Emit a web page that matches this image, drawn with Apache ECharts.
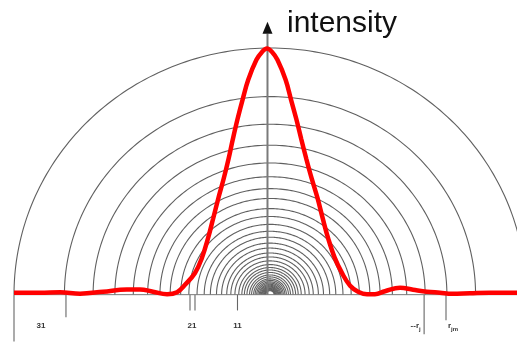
<!DOCTYPE html>
<html>
<head>
<meta charset="utf-8">
<script src="https://cdn.jsdelivr.net/npm/echarts@6/dist/echarts.min.js"></script>
<style>
  html, body { margin: 0; padding: 0; background: #ffffff; }
  #chart { width: 517px; height: 344px; }
</style>
</head>
<body>
<div id="chart"></div>
<script>
// Ring radii, as a fraction of the outermost ring
const ringRadii = [1.000, 0.803, 0.691, 0.606, 0.534, 0.478, 0.430, 0.390, 0.349, 0.317,
  0.285, 0.257, 0.233, 0.209, 0.189, 0.169, 0.153, 0.137, 0.122, 0.110,
  0.100, 0.090, 0.080, 0.072, 0.064, 0.058, 0.052, 0.047, 0.042, 0.038,
  0.034, 0.031, 0.028, 0.025, 0.022, 0.020, 0.018, 0.016];

// Intensity profile across the pattern (radial position, normalised intensity)
const profileR = [-1.000, -0.898, -0.820, -0.742, -0.652, -0.559, -0.508, -0.457, -0.402, -0.363,
  -0.332, -0.293, -0.266, -0.242, -0.222, -0.202, -0.181, -0.162, -0.145, -0.127,
  -0.107, -0.085, -0.053, -0.031, -0.012, 0.008, 0.029, 0.061, 0.082, 0.103,
  0.122, 0.142, 0.163, 0.186, 0.206, 0.227, 0.253, 0.281, 0.313, 0.344,
  0.379, 0.410, 0.449, 0.508, 0.559, 0.613, 0.664, 0.711, 0.781, 0.859, 0.965];
const profileIntensity = [0.008, 0.008, 0.010, 0.004, 0.012, 0.021, 0.021, 0.012, 0.002, 0.010,
  0.040, 0.088, 0.149, 0.229, 0.309, 0.390, 0.470, 0.550, 0.631, 0.711,
  0.791, 0.871, 0.952, 0.984, 0.998, 0.984, 0.952, 0.871, 0.791, 0.711,
  0.631, 0.550, 0.470, 0.390, 0.309, 0.229, 0.149, 0.088, 0.036, 0.012,
  0.002, 0.002, 0.014, 0.028, 0.020, 0.012, 0.008, 0.004, 0.006, 0.008, 0.008];

// Marker lines hanging below the base line (position, lower end)
const markerR = [-1.000, -0.797, -0.3125, -0.293, -0.127, 0.602, 0.6875];
const markerEnd = [-0.190, -0.092, -0.064, -0.064, -0.064, -0.160, -0.104];

// Marker labels
const labelR = [-0.895, -0.305, -0.127, 0.582, 0.707];
const labelMain = ['31', '21', '11', '--r', 'r'];
const labelSub = ['', '', '', 'j', 'jm'];
const labelLevel = -0.128;

// Intensity axis position and arrow extent
const axisR = -0.0098;
const axisTop = 1.058;
const arrowTip = 1.106;

// Visible radial range (the outer ring runs off the right edge)
const rMin = -1;
const rMax = 0.96484375;

const chart = echarts.init(document.getElementById('chart'), null, { renderer: 'canvas' });

function ringItem(params, api) {
  const r = api.value(0);
  const pts = [];
  const n = 160;
  for (let k = 0; k <= n; k++) {
    const t = Math.PI * k / n;
    pts.push(api.coord([r * Math.cos(t), r * Math.sin(t)]));
  }
  return {
    type: 'polyline',
    shape: { points: pts },
    style: { stroke: '#606060', lineWidth: 1.1, fill: null }
  };
}

function markerItem(params, api) {
  const a = api.coord([api.value(0), 0]);
  const b = api.coord([api.value(0), api.value(1)]);
  return {
    type: 'line',
    shape: { x1: a[0], y1: a[1], x2: b[0], y2: b[1] },
    style: { stroke: '#666', lineWidth: 1.1 }
  };
}

function labelItem(params, api) {
  const i = params.dataIndex;
  const p = api.coord([api.value(0), api.value(1)]);
  const children = [{
    type: 'text',
    x: p[0], y: p[1],
    style: {
      text: labelMain[i],
      font: 'bold 8px "Liberation Sans", Arial, sans-serif',
      fill: '#333',
      align: labelSub[i] ? 'right' : 'center',
      verticalAlign: 'middle'
    }
  }];
  if (labelSub[i]) {
    children.push({
      type: 'text',
      x: p[0], y: p[1] + 3,
      style: {
        text: labelSub[i],
        font: 'bold 6px "Liberation Sans", Arial, sans-serif',
        fill: '#333',
        align: 'left',
        verticalAlign: 'middle'
      }
    });
  }
  return { type: 'group', children: children };
}

function axisItem(params, api) {
  const base = api.coord([axisR, 0]);
  const top = api.coord([axisR, axisTop]);
  const tip = api.coord([axisR, arrowTip]);
  const left = api.coord([rMin, 0]);
  const right = api.coord([rMax, 0]);
  return {
    type: 'group',
    children: [
      {
        type: 'line',
        shape: { x1: left[0], y1: left[1], x2: right[0], y2: right[1] },
        style: { stroke: '#7a7a7a', lineWidth: 1 }
      },
      {
        type: 'line',
        shape: { x1: base[0], y1: base[1], x2: top[0], y2: top[1] },
        style: { stroke: '#7a7a7a', lineWidth: 2 }
      },
      {
        type: 'polygon',
        shape: { points: [[tip[0], tip[1]], [top[0] - 5, top[1]], [top[0] + 5, top[1]]] },
        style: { fill: '#111' }
      }
    ]
  };
}

const option = {
  animation: false,
  backgroundColor: '#ffffff',
  grid: { left: 14, right: 0, top: 48, height: 299 },
  xAxis: { type: 'value', min: rMin, max: rMax, show: false },
  yAxis: { type: 'value', min: -0.2, max: 1, show: false },
  series: [
    {
      type: 'custom',
      silent: true,
      clip: false,
      z: 1,
      renderItem: ringItem,
      data: ringRadii.map(r => [r, 0])
    },
    {
      type: 'custom',
      silent: true,
      clip: false,
      z: 2,
      renderItem: markerItem,
      data: markerR.map((x, i) => [x, markerEnd[i]])
    },
    {
      type: 'custom',
      silent: true,
      clip: false,
      z: 3,
      renderItem: axisItem,
      data: [[axisR, 0]]
    },
    {
      type: 'line',
      silent: true,
      z: 5,
      smooth: 0.4,
      showSymbol: false,
      lineStyle: { color: '#ff0000', width: 4.5 },
      data: profileR.map((x, i) => [x, profileIntensity[i]])
    },
    {
      type: 'custom',
      silent: true,
      clip: false,
      z: 6,
      renderItem: labelItem,
      data: labelR.map(x => [x, labelLevel])
    }
  ],
  graphic: [
    {
      type: 'text',
      left: 287,
      top: 9,
      style: {
        text: 'intensity',
        font: '30px "Liberation Sans", Arial, sans-serif',
        fill: '#111'
      }
    }
  ]
};

chart.setOption(option);
</script>
</body>
</html>
